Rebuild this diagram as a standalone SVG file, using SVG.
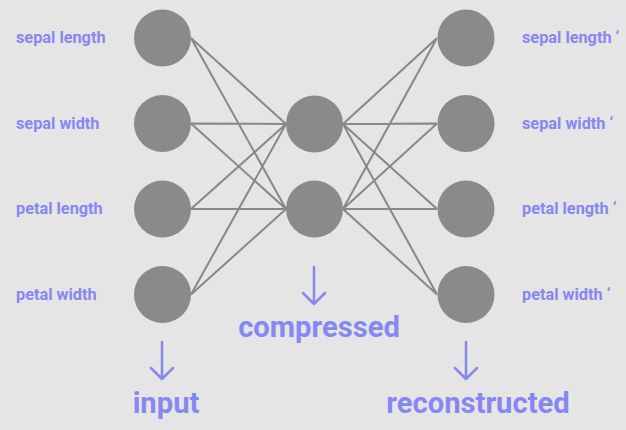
<svg xmlns="http://www.w3.org/2000/svg" width="626" height="430" viewBox="0 0 626 430">
<style>
.node{fill:#8a8a8a}
.edge{stroke:#888888;stroke-width:2;fill:none}
.lbl{font-family:Roboto,"Liberation Sans",sans-serif;font-weight:bold;font-size:16.3px;fill:#8787f2}
.big{font-family:Roboto,"Liberation Sans",sans-serif;font-weight:bold;font-size:29.2px;fill:#8787f2;text-anchor:middle}
.arr{stroke:#8787f2;stroke-width:2.5;fill:none;stroke-linecap:round;stroke-linejoin:round}
</style>
<rect width="626" height="430" fill="#e5e5e5"/>
<g id="connectors">
<path class="edge" d="M191,38L286,124M191,38L286,209M191,123.5L286,124M191,123.5L286,209M191,209L286,124M191,209L286,209M191,294.5L286,124M191,294.5L286,209"/>
<path class="edge" d="M343,124L437,38M343,124L437,123.5M343,124L437,209M343,124L437,294.5M343,209L437,38M343,209L437,123.5M343,209L437,209M343,209L437,294.5"/>
</g>
<g id="in1"><circle class="node" cx="162.5" cy="38" r="28.5"/><text class="lbl" x="16" y="43">sepal length</text></g>
<g id="in2"><circle class="node" cx="162.5" cy="123.5" r="28.5"/><text class="lbl" x="16" y="128.5">sepal width</text></g>
<g id="in3"><circle class="node" cx="162.5" cy="209" r="28.5"/><text class="lbl" x="16" y="214">petal length</text></g>
<g id="in4"><circle class="node" cx="162.5" cy="294.5" r="28.5"/><text class="lbl" x="16" y="299.5">petal width</text></g>
<g id="h1"><circle class="node" cx="314.5" cy="124" r="28.5"/></g>
<g id="h2"><circle class="node" cx="314.5" cy="209" r="28.5"/></g>
<g id="out1"><circle class="node" cx="466" cy="38" r="28.5"/><text class="lbl" x="522" y="43">sepal length ‘</text></g>
<g id="out2"><circle class="node" cx="466" cy="123.5" r="28.5"/><text class="lbl" x="522" y="128.5">sepal width ‘</text></g>
<g id="out3"><circle class="node" cx="466" cy="209" r="28.5"/><text class="lbl" x="522" y="214">petal length ‘</text></g>
<g id="out4"><circle class="node" cx="466" cy="294.5" r="28.5"/><text class="lbl" x="522" y="299.5">petal width ‘</text></g>
<g id="lbl-input"><path class="arr" d="M162,342V379M151,368L162,379L173,368"/><text class="big" x="166" y="413">input</text></g>
<g id="lbl-compressed"><path class="arr" d="M314,267V304M303,293L314,304L325,293"/><text class="big" x="319" y="337">compressed</text></g>
<g id="lbl-reconstructed"><path class="arr" d="M466,342V379M455,368L466,379L477,368"/><text class="big" x="478" y="413">reconstructed</text></g>
</svg>
